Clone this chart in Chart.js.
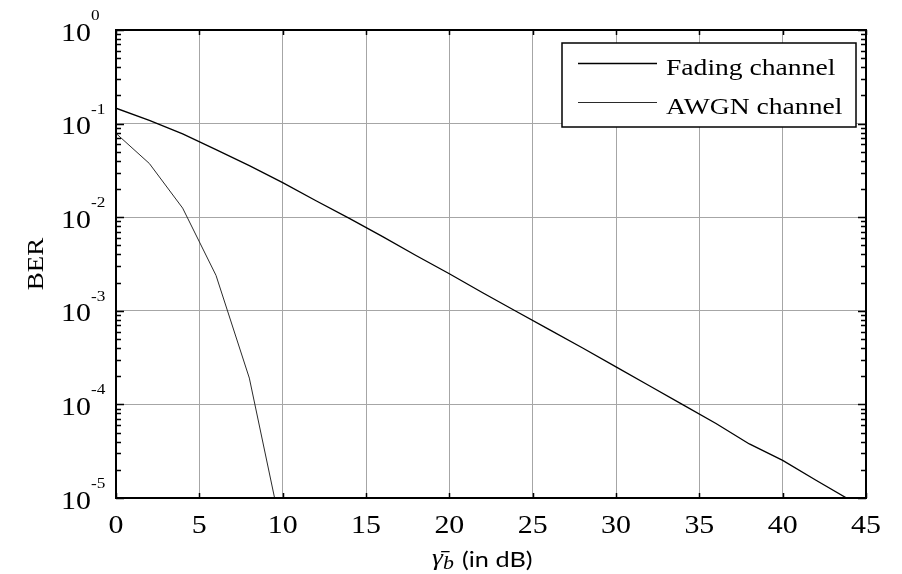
<!DOCTYPE html>
<html>
<head>
<meta charset="utf-8">
<script src="https://cdn.jsdelivr.net/npm/chart.js@4/dist/chart.umd.min.js"></script>
<style>
html,body{margin:0;padding:0;background:#fff;}
#wrap{width:902px;height:574px;position:relative;}
</style>
</head>
<body>
<div id="wrap"><canvas id="c" width="902" height="574"></canvas></div>
<script>
// ---- data ----
const xTickValues = [0, 5, 10, 15, 20, 25, 30, 35, 40, 45];
const yDecadeValues = [1e-5, 1e-4, 1e-3, 1e-2, 1e-1, 1];
const yDecadeExponents = ['-5', '-4', '-3', '-2', '-1', '0'];
const fadingSnrDb = [0, 2, 4, 6, 8, 10, 12, 14, 16, 18, 20, 22, 24, 26, 28, 30, 32, 34, 36, 38, 40, 42, 44];
const fadingBer = [0.146, 0.108, 0.0775, 0.0528, 0.0355, 0.0234, 0.0150, 0.0097, 0.0062, 0.0039, 0.00249,
                   0.00156, 0.00099, 0.00063, 0.00040, 0.000252, 0.000158, 0.0000995, 0.0000625, 0.0000378,
                   0.0000252, 0.0000155, 0.0000096];
const awgnSnrDb = [0, 2, 4, 6, 8, 10];
const awgnBer = [0.0786, 0.0375, 0.0125, 0.00239, 0.000191, 0.0000039];
const seriesNames = ['Fading channel', 'AWGN channel'];
const yAxisTitle = 'BER';
const xAxisTitleSymbol = 'γ\u0304';
const xAxisTitleSub = 'b';
const xAxisTitleRest = '(in dB)';

const SERIF = '"Liberation Serif", "Times New Roman", serif';
const SX = 1.15; // horizontal stretch of the reference text

function txt(ctx, s, x, y, font, align, base, sx) {
  ctx.save();
  ctx.font = font;
  ctx.textAlign = align || 'left';
  ctx.textBaseline = base || 'alphabetic';
  ctx.translate(x, y);
  ctx.scale(sx || SX, 1);
  ctx.fillText(s, 0, 0);
  ctx.restore();
}

const decorPlugin = {
  id: 'decor',
  afterDraw(chart) {
    const ctx = chart.ctx;
    const a = chart.chartArea;
    const xs = chart.scales.x, ys = chart.scales.y;
    ctx.save();
    ctx.fillStyle = '#000';
    ctx.strokeStyle = '#000';
    // tick marks
    ctx.lineWidth = 1.5;
    ctx.beginPath();
    xs.ticks.forEach(t => {
      const px = Math.round(xs.getPixelForValue(t.value)) + 0.5;
      ctx.moveTo(px, a.bottom); ctx.lineTo(px, a.bottom - 5);
      ctx.moveTo(px, a.top); ctx.lineTo(px, a.top + 5);
    });
    yDecadeValues.forEach((v, i) => {
      const py = Math.round(ys.getPixelForValue(v)) + 0.5;
      ctx.moveTo(a.left, py); ctx.lineTo(a.left + 8, py);
      ctx.moveTo(a.right, py); ctx.lineTo(a.right - 8, py);
      if (i < yDecadeValues.length - 1) {
        for (let m = 2; m <= 9; m++) {
          const my = Math.round(ys.getPixelForValue(v * m)) + 0.5;
          ctx.moveTo(a.left, my); ctx.lineTo(a.left + 5, my);
          ctx.moveTo(a.right, my); ctx.lineTo(a.right - 5, my);
        }
      }
    });
    ctx.stroke();
    // box
    ctx.lineWidth = 2;
    ctx.strokeRect(a.left, a.top, a.right - a.left, a.bottom - a.top);
    // x tick labels
    xs.ticks.forEach(t => {
      const px = xs.getPixelForValue(t.value);
      txt(ctx, String(t.value), px, a.bottom + 35, '26px ' + SERIF, 'center');
    });
    // y tick labels
    yDecadeValues.forEach((v, i) => {
      const py = ys.getPixelForValue(v);
      txt(ctx, '10', a.left - 25, py + 10.5, '26px ' + SERIF, 'right');
      txt(ctx, yDecadeExponents[i], a.left - 25, py - 10, '15px ' + SERIF, 'left');
    });
    // y title
    ctx.save();
    ctx.translate(43, (a.top + a.bottom) / 2);
    ctx.rotate(-Math.PI / 2);
    ctx.font = '24px ' + SERIF;
    ctx.textAlign = 'center';
    ctx.scale(1.12, 1);
    ctx.fillText(yAxisTitle, 0, 0);
    ctx.restore();
    // x title
    txt(ctx, xAxisTitleSymbol, 432, 565, 'italic 24px ' + SERIF, 'left');
    txt(ctx, xAxisTitleSub, 443, 569, 'italic 19px ' + SERIF, 'left');
    txt(ctx, xAxisTitleRest, 462, 567, '22px Lato, "Open Sans", sans-serif', 'left');
    // legend
    const L = {x: 562, y: 43, w: 294, h: 84};
    ctx.fillStyle = '#fff';
    ctx.fillRect(L.x, L.y, L.w, L.h);
    ctx.lineWidth = 1.5;
    ctx.strokeStyle = '#000';
    ctx.strokeRect(L.x, L.y, L.w, L.h);
    const rows = [63, 102];
    chart.data.datasets.forEach((ds, i) => {
      ctx.strokeStyle = ds.borderColor;
      ctx.lineWidth = ds.borderWidth;
      ctx.beginPath();
      ctx.moveTo(578, rows[i] + 0.5); ctx.lineTo(657, rows[i] + 0.5);
      ctx.stroke();
      ctx.fillStyle = '#000';
      txt(ctx, ds.label, 666, rows[i] + 12, '24px ' + SERIF, 'left');
    });
    ctx.restore();
  }
};

const toPts = (xsArr, ysArr) => xsArr.map((x, i) => ({x: x, y: ysArr[i]}));

new Chart(document.getElementById('c'), {
  type: 'line',
  data: {
    datasets: [
      {label: seriesNames[0], data: toPts(fadingSnrDb, fadingBer), borderColor: '#000', borderWidth: 1.3,
       pointRadius: 0, fill: false, tension: 0},
      {label: seriesNames[1], data: toPts(awgnSnrDb, awgnBer), borderColor: '#2a2a2a', borderWidth: 1,
       pointRadius: 0, fill: false, tension: 0}
    ]
  },
  options: {
    responsive: false,
    animation: false,
    devicePixelRatio: 1,
    layout: {padding: {top: 30, right: 36, left: 0, bottom: 0}},
    plugins: {legend: {display: false}, tooltip: {enabled: false}},
    scales: {
      x: {
        type: 'linear', min: 0, max: 45,
        afterBuildTicks: s => { s.ticks = xTickValues.map(v => ({value: v})); },
        ticks: {display: false},
        grid: {color: '#a6a6a6', lineWidth: 1, drawTicks: false},
        border: {display: false},
        afterFit: s => { s.height = 76; }
      },
      y: {
        type: 'logarithmic', min: 1e-5, max: 1,
        afterBuildTicks: s => { s.ticks = yDecadeValues.map(v => ({value: v})); },
        ticks: {display: false},
        grid: {color: '#a6a6a6', lineWidth: 1, drawTicks: false},
        border: {display: false},
        afterFit: s => { s.width = 116; }
      }
    }
  },
  plugins: [decorPlugin]
});
</script>
</body>
</html>
